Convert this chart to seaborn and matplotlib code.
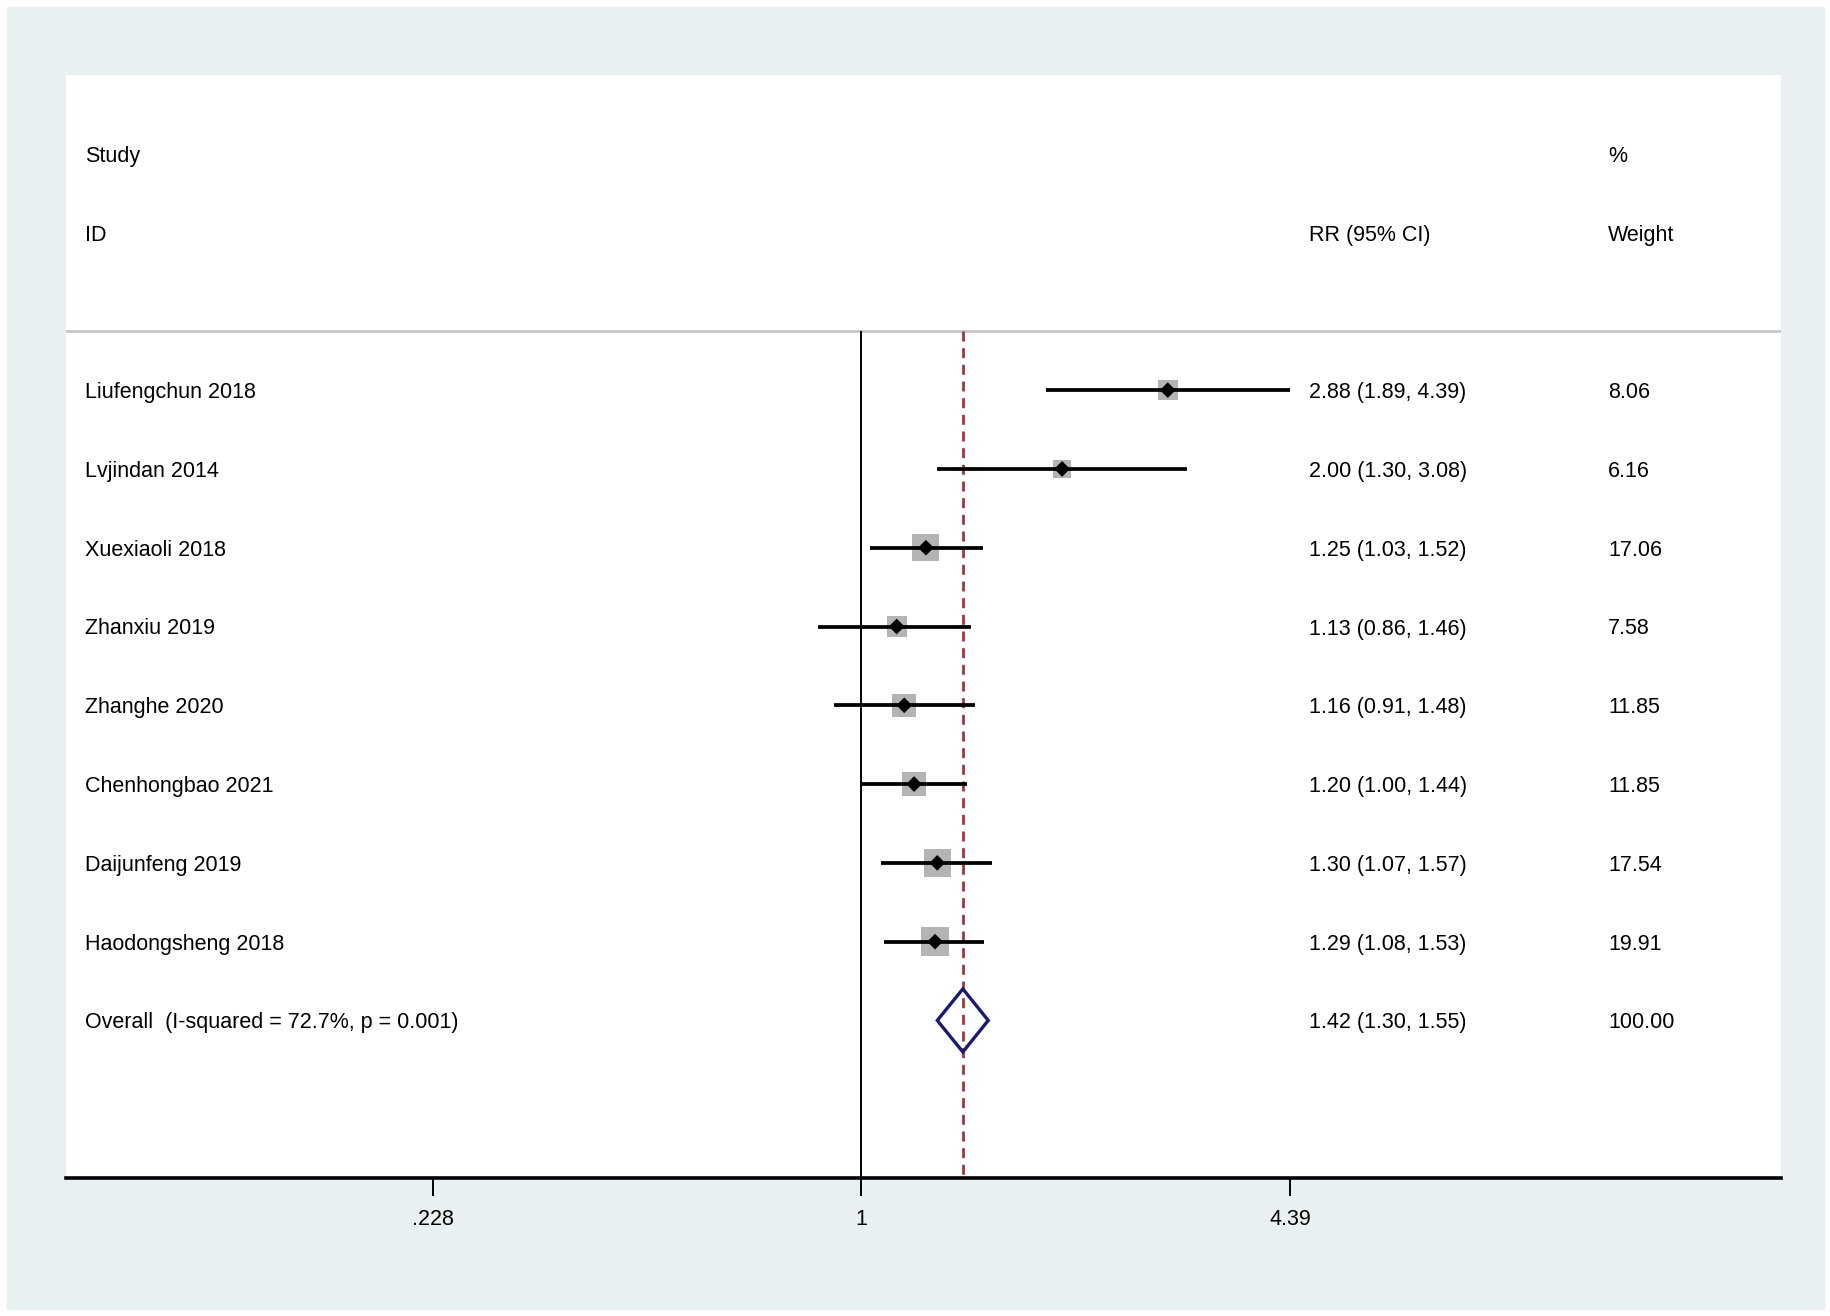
import matplotlib
matplotlib.use('Agg')
import matplotlib.pyplot as plt
from matplotlib.patches import Rectangle
import numpy as np
import pandas as pd
import seaborn as sns

STUDIES = ['Liufengchun 2018', 'Lvjindan 2014', 'Xuexiaoli 2018', 'Zhanxiu 2019',
           'Zhanghe 2020', 'Chenhongbao 2021', 'Daijunfeng 2019', 'Haodongsheng 2018']
RR = [2.88, 2.00, 1.25, 1.13, 1.16, 1.20, 1.30, 1.29]
LOWER = [1.89, 1.30, 1.03, 0.86, 0.91, 1.00, 1.07, 1.08]
UPPER = [4.39, 3.08, 1.52, 1.46, 1.48, 1.44, 1.57, 1.53]
WEIGHTS = [8.06, 6.16, 17.06, 7.58, 11.85, 11.85, 17.54, 19.91]

OVERALL_LABEL = 'Overall  (I-squared = 72.7%, p = 0.001)'
OVERALL = (1.42, 1.30, 1.55)
OVERALL_WEIGHT = 100.00

XTICKS = [0.228, 1, 4.39]
XTICK_LABELS = ['.228', '1', '4.39']

FONT = 15.5
BG = '#e9f0f2'
NAVY = '#1b1b6e'
DASH_RED = '#a3343f'


def main():
    sns.set_theme(style='white')
    plt.rcParams['font.family'] = ['Liberation Sans', 'DejaVu Sans']

    df = pd.DataFrame({'study': STUDIES, 'rr': RR, 'lo': LOWER, 'hi': UPPER,
                       'weight': WEIGHTS})
    df['row'] = np.arange(len(df))
    # square side grows with sqrt(weight); marker area in pt^2
    df['box'] = ((6.0 + 5.1 * np.sqrt(df['weight'])) * 0.72) ** 2
    overall_row = len(df)

    W, H = 1831, 1316
    left, right, top, bottom = 66, 1781, 75, 1178
    fig = plt.figure(figsize=(W / 100, H / 100), dpi=100, facecolor='white')
    fig.patches.append(Rectangle((7 / W, 7 / H), (1824 - 7) / W, (1309 - 7) / H,
                                 transform=fig.transFigure, color=BG, zorder=-10))
    ax = fig.add_axes([left / W, (H - bottom) / H, (right - left) / W, (bottom - top) / H])
    ax.set_facecolor('white')

    ax.set_xscale('log')
    ax.set_xlim(0.0643, 23.9)
    ax.set_ylim(10, -4)

    # reference lines
    sep = -0.75
    ax.axhline(sep, color='#c8c8c8', lw=2, zorder=1)
    ax.vlines(1, sep, 10, color='black', lw=1.4, zorder=2)
    ax.vlines(OVERALL[0], sep, 10, color=DASH_RED, lw=2.0,
              linestyles=(0, (3.6, 2.4)), zorder=2.5)

    # weight squares
    sns.scatterplot(data=df, x='rr', y='row', size='box',
                    sizes=(df['box'].min(), df['box'].max()),
                    marker='s', color='#b4b4b4', edgecolor='none', linewidth=0,
                    legend=False, ax=ax, zorder=2)
    # confidence intervals
    ax.hlines(df['row'], df['lo'], df['hi'], color='black', lw=2.7, zorder=3)
    # point estimates
    sns.scatterplot(data=df, x='rr', y='row', marker='D', s=64, color='black',
                    edgecolor='none', linewidth=0, legend=False, ax=ax, zorder=4)

    # overall diamond
    est, lo, hi = OVERALL
    ax.fill([lo, est, hi, est],
            [overall_row, overall_row - 0.4, overall_row, overall_row + 0.4],
            fill=False, edgecolor=NAVY, lw=2.4, zorder=4)

    # text columns
    tr = ax.get_yaxis_transform()
    x_id = (85 - left) / (right - left)
    x_rr = (1309 - left) / (right - left)
    x_w = (1608 - left) / (right - left)
    kw = dict(transform=tr, fontsize=FONT, va='center_baseline', ha='left',
              color='black')
    ax.text(x_id, -3, 'Study', **kw)
    ax.text(x_id, -2, 'ID', **kw)
    ax.text(x_rr, -2, 'RR (95% CI)', **kw)
    ax.text(x_w, -3, '%', **kw)
    ax.text(x_w, -2, 'Weight', **kw)
    for _, r in df.iterrows():
        ax.text(x_id, r['row'], r['study'], **kw)
        ax.text(x_rr, r['row'], f"{r['rr']:.2f} ({r['lo']:.2f}, {r['hi']:.2f})", **kw)
        ax.text(x_w, r['row'], f"{r['weight']:.2f}", **kw)
    ax.text(x_id, overall_row, OVERALL_LABEL, **kw)
    ax.text(x_rr, overall_row, f'{est:.2f} ({lo:.2f}, {hi:.2f})', **kw)
    ax.text(x_w, overall_row, f'{OVERALL_WEIGHT:.2f}', **kw)

    # axis styling
    for side in ['top', 'left', 'right']:
        ax.spines[side].set_visible(False)
    ax.spines['bottom'].set_color('black')
    ax.spines['bottom'].set_linewidth(2.6)
    ax.set_xticks(XTICKS)
    ax.set_xticklabels(XTICK_LABELS)
    ax.xaxis.set_minor_locator(matplotlib.ticker.NullLocator())
    ax.tick_params(axis='x', which='major', direction='out', length=13, width=1.4,
                   pad=9, labelsize=FONT, colors='black', bottom=True)
    ax.set_yticks([])
    ax.set_xlabel('')
    ax.set_ylabel('')

    fig.savefig('out.png', dpi=100, facecolor='white')


if __name__ == '__main__':
    main()
